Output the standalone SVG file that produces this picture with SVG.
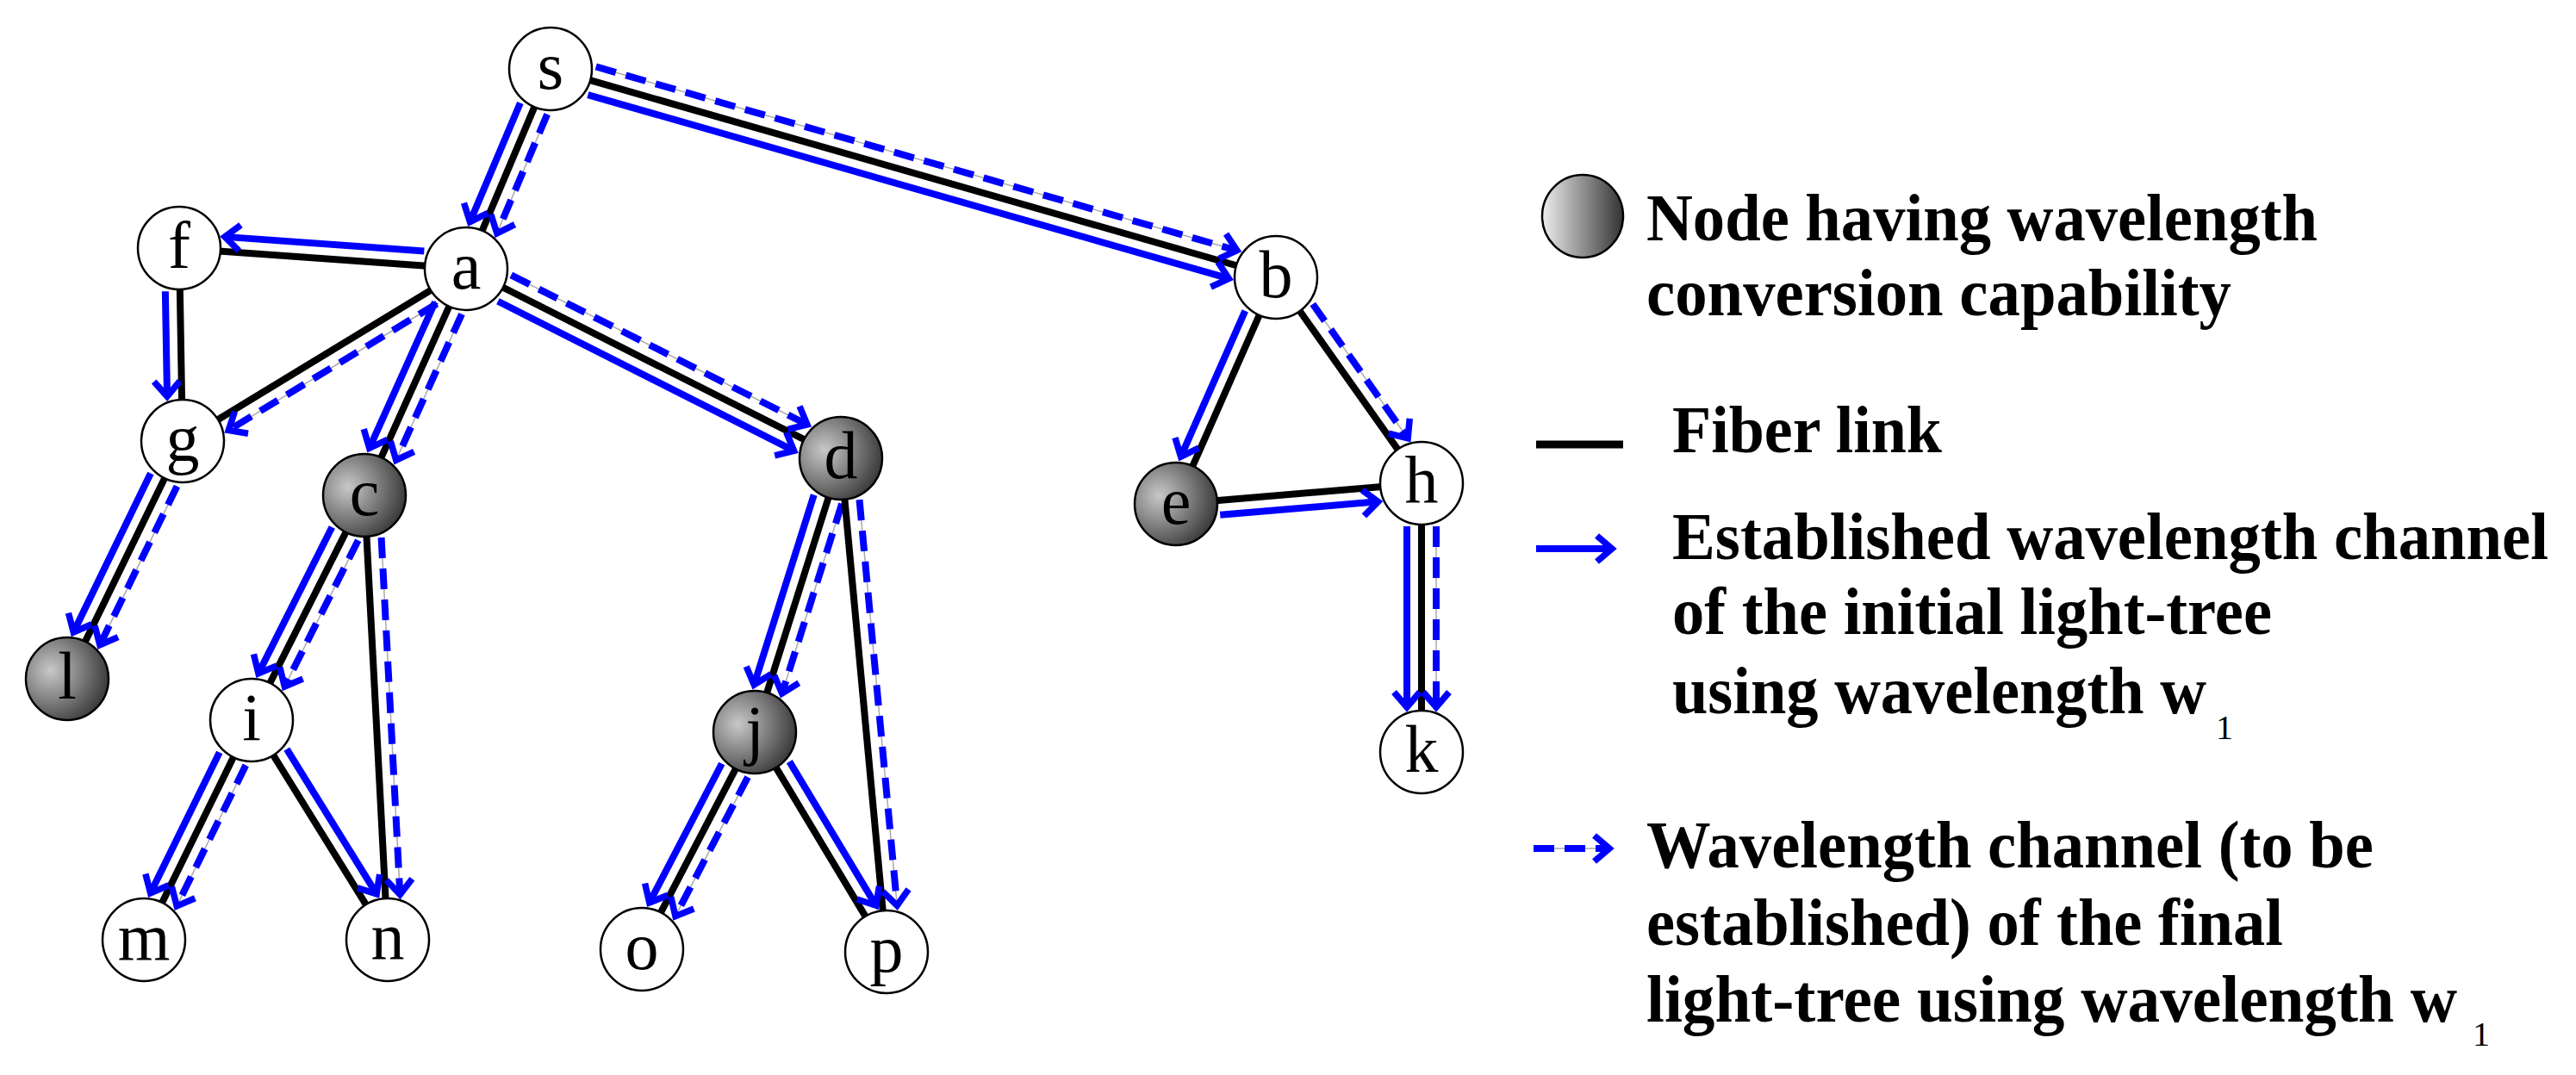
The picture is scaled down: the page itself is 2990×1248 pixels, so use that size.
<svg xmlns="http://www.w3.org/2000/svg" width="2990" height="1248" viewBox="0 0 2990 1248">
<style>
.fib{stroke:#000;stroke-width:8;fill:none}
.sol{stroke:#0000ff;stroke-width:8;fill:none;marker-end:url(#ah)}
.gry{stroke:#aaa;stroke-width:1.5;fill:none}
.dsh{stroke:#0000ff;stroke-width:8;fill:none;stroke-dasharray:24 12;marker-end:url(#ah)}
.nd{fill:#fff;stroke:#000;stroke-width:2.5}
.gn{fill:url(#gg);stroke:#000;stroke-width:2.5}
.lb{font-family:"Liberation Serif",serif;font-size:78px;text-anchor:middle}
.lg{font-family:"Liberation Serif",serif;font-size:78px;font-weight:bold}
</style>
<defs>
<radialGradient id="gg" cx="0.3" cy="0.4" r="0.75"><stop offset="0" stop-color="#c8c8c8"/><stop offset="1" stop-color="#333"/></radialGradient>
<linearGradient id="lgg" x1="0" x2="1" y1="0" y2="0"><stop offset="0" stop-color="#eee"/><stop offset="1" stop-color="#333"/></linearGradient>
<marker id="ah" markerUnits="userSpaceOnUse" markerWidth="40" markerHeight="40" viewBox="-18 -16 24 32" refX="0" refY="0" orient="auto"><path d="M-14,-12 L0,0 L-14,12" fill="none" stroke="#0000ff" stroke-width="6"/></marker>
</defs>
<g id="connectors">
<g transform="translate(639,80) rotate(112.9)"><line class="fib" x1="46" y1="0" x2="206" y2="0"/><line class="sol" x1="50" y1="17" x2="200" y2="17"/><line class="gry" x1="50" y1="-17" x2="200" y2="-17"/><line class="dsh" x1="50" y1="-17" x2="200" y2="-17"/></g>
<g transform="translate(639,80) rotate(16.0)"><line class="fib" x1="46" y1="0" x2="830" y2="0"/><line class="sol" x1="50" y1="17" x2="824" y2="17"/><line class="gry" x1="50" y1="-17" x2="824" y2="-17"/><line class="dsh" x1="50" y1="-17" x2="824" y2="-17"/></g>
<g transform="translate(541,312) rotate(184.1)"><line class="fib" x1="46" y1="0" x2="288" y2="0"/><line class="sol" x1="50" y1="17" x2="282" y2="17"/></g>
<g transform="translate(208,288) rotate(89.0)"><line class="fib" x1="46" y1="0" x2="178" y2="0"/><line class="sol" x1="50" y1="17" x2="172" y2="17"/></g>
<g transform="translate(541,312) rotate(148.7)"><line class="fib" x1="46" y1="0" x2="339" y2="0"/><line class="gry" x1="50" y1="-17" x2="333" y2="-17"/><line class="dsh" x1="50" y1="-17" x2="333" y2="-17"/></g>
<g transform="translate(541,312) rotate(114.2)"><line class="fib" x1="46" y1="0" x2="242" y2="0"/><line class="sol" x1="50" y1="17" x2="236" y2="17"/><line class="gry" x1="50" y1="-17" x2="236" y2="-17"/><line class="dsh" x1="50" y1="-17" x2="236" y2="-17"/></g>
<g transform="translate(541,312) rotate(26.8)"><line class="fib" x1="46" y1="0" x2="441" y2="0"/><line class="sol" x1="50" y1="17" x2="435" y2="17"/><line class="gry" x1="50" y1="-17" x2="435" y2="-17"/><line class="dsh" x1="50" y1="-17" x2="435" y2="-17"/></g>
<g transform="translate(212,512) rotate(115.9)"><line class="fib" x1="46" y1="0" x2="261" y2="0"/><line class="sol" x1="50" y1="17" x2="255" y2="17"/><line class="gry" x1="50" y1="-17" x2="255" y2="-17"/><line class="dsh" x1="50" y1="-17" x2="255" y2="-17"/></g>
<g transform="translate(423,575) rotate(116.7)"><line class="fib" x1="46" y1="0" x2="246" y2="0"/><line class="sol" x1="50" y1="17" x2="240" y2="17"/><line class="gry" x1="50" y1="-17" x2="240" y2="-17"/><line class="dsh" x1="50" y1="-17" x2="240" y2="-17"/></g>
<g transform="translate(423,575) rotate(87.0)"><line class="fib" x1="46" y1="0" x2="471" y2="0"/><line class="gry" x1="50" y1="-17" x2="465" y2="-17"/><line class="dsh" x1="50" y1="-17" x2="465" y2="-17"/></g>
<g transform="translate(292,836) rotate(116.1)"><line class="fib" x1="46" y1="0" x2="238" y2="0"/><line class="sol" x1="50" y1="17" x2="232" y2="17"/><line class="gry" x1="50" y1="-17" x2="232" y2="-17"/><line class="dsh" x1="50" y1="-17" x2="232" y2="-17"/></g>
<g transform="translate(292,836) rotate(58.2)"><line class="fib" x1="46" y1="0" x2="254" y2="0"/><line class="sol" x1="50" y1="-17" x2="248" y2="-17"/></g>
<g transform="translate(976,532) rotate(107.5)"><line class="fib" x1="46" y1="0" x2="287" y2="0"/><line class="sol" x1="50" y1="17" x2="281" y2="17"/><line class="gry" x1="50" y1="-17" x2="281" y2="-17"/><line class="dsh" x1="50" y1="-17" x2="281" y2="-17"/></g>
<g transform="translate(976,532) rotate(84.7)"><line class="fib" x1="46" y1="0" x2="529" y2="0"/><line class="gry" x1="50" y1="-17" x2="523" y2="-17"/><line class="dsh" x1="50" y1="-17" x2="523" y2="-17"/></g>
<g transform="translate(876,850) rotate(117.5)"><line class="fib" x1="46" y1="0" x2="238" y2="0"/><line class="sol" x1="50" y1="17" x2="232" y2="17"/><line class="gry" x1="50" y1="-17" x2="232" y2="-17"/><line class="dsh" x1="50" y1="-17" x2="232" y2="-17"/></g>
<g transform="translate(876,850) rotate(59.0)"><line class="fib" x1="46" y1="0" x2="251" y2="0"/><line class="sol" x1="50" y1="-17" x2="245" y2="-17"/></g>
<g transform="translate(1481,322) rotate(113.8)"><line class="fib" x1="46" y1="0" x2="241" y2="0"/><line class="sol" x1="50" y1="17" x2="235" y2="17"/></g>
<g transform="translate(1481,322) rotate(54.7)"><line class="fib" x1="46" y1="0" x2="247" y2="0"/><line class="gry" x1="50" y1="-17" x2="241" y2="-17"/><line class="dsh" x1="50" y1="-17" x2="241" y2="-17"/></g>
<g transform="translate(1365,585) rotate(-4.8)"><line class="fib" x1="46" y1="0" x2="240" y2="0"/><line class="sol" x1="50" y1="17" x2="234" y2="17"/></g>
<g transform="translate(1650,561) rotate(90)"><line class="fib" x1="46" y1="0" x2="266" y2="0"/><line class="sol" x1="50" y1="17" x2="260" y2="17"/><line class="gry" x1="50" y1="-17" x2="260" y2="-17"/><line class="dsh" x1="50" y1="-17" x2="260" y2="-17"/></g>
</g>
<g id="node-s"><circle class="nd" cx="639" cy="80" r="48"/><text class="lb" x="639" y="103">s</text></g>
<g id="node-f"><circle class="nd" cx="208" cy="288" r="48"/><text class="lb" x="208" y="311">f</text></g>
<g id="node-a"><circle class="nd" cx="541" cy="312" r="48"/><text class="lb" x="541" y="335">a</text></g>
<g id="node-g"><circle class="nd" cx="212" cy="512" r="48"/><text class="lb" x="212" y="535">g</text></g>
<g id="node-c"><circle class="gn" cx="423" cy="575" r="48"/><text class="lb" x="423" y="598">c</text></g>
<g id="node-d"><circle class="gn" cx="976" cy="532" r="48"/><text class="lb" x="976" y="555">d</text></g>
<g id="node-l"><circle class="gn" cx="78" cy="788" r="48"/><text class="lb" x="78" y="811">l</text></g>
<g id="node-i"><circle class="nd" cx="292" cy="836" r="48"/><text class="lb" x="292" y="859">i</text></g>
<g id="node-j"><circle class="gn" cx="876" cy="850" r="48"/><text class="lb" x="876" y="873">j</text></g>
<g id="node-m"><circle class="nd" cx="167" cy="1091" r="48"/><text class="lb" x="167" y="1114">m</text></g>
<g id="node-n"><circle class="nd" cx="450" cy="1091" r="48"/><text class="lb" x="450" y="1114">n</text></g>
<g id="node-o"><circle class="nd" cx="745" cy="1102" r="48"/><text class="lb" x="745" y="1125">o</text></g>
<g id="node-p"><circle class="nd" cx="1029" cy="1105" r="48"/><text class="lb" x="1029" y="1128">p</text></g>
<g id="node-b"><circle class="nd" cx="1481" cy="322" r="48"/><text class="lb" x="1481" y="345">b</text></g>
<g id="node-e"><circle class="gn" cx="1365" cy="585" r="48"/><text class="lb" x="1365" y="608">e</text></g>
<g id="node-h"><circle class="nd" cx="1650" cy="561" r="48"/><text class="lb" x="1650" y="584">h</text></g>
<g id="node-k"><circle class="nd" cx="1650" cy="873" r="48"/><text class="lb" x="1650" y="896">k</text></g>
<g id="legend">
<ellipse cx="1837" cy="251" rx="47" ry="48" fill="url(#lgg)" stroke="#000" stroke-width="2.5"/>
<text class="lg" x="1911" y="279" textLength="779" lengthAdjust="spacingAndGlyphs">Node having wavelength</text>
<text class="lg" x="1911" y="366" textLength="679" lengthAdjust="spacingAndGlyphs">conversion capability</text>
<line x1="1783" y1="516" x2="1884" y2="516" stroke="#000" stroke-width="9"/>
<text class="lg" x="1941" y="525" textLength="313" lengthAdjust="spacingAndGlyphs">Fiber link</text>
<line class="sol" x1="1783" y1="637" x2="1871" y2="637"/>
<text class="lg" x="1941" y="649" textLength="1017" lengthAdjust="spacingAndGlyphs">Established wavelength channel</text>
<text class="lg" x="1941" y="736" textLength="696" lengthAdjust="spacingAndGlyphs">of the initial light-tree</text>
<text class="lg" x="1941" y="828" textLength="620" lengthAdjust="spacingAndGlyphs">using wavelength w</text>
<text x="2572" y="858" font-family="Liberation Serif,serif" font-size="40">1</text>
<line class="gry" x1="1780" y1="985" x2="1868" y2="985"/>
<line class="dsh" x1="1780" y1="985" x2="1868" y2="985"/>
<text class="lg" x="1911" y="1007" textLength="844" lengthAdjust="spacingAndGlyphs">Wavelength channel (to be</text>
<text class="lg" x="1911" y="1097" textLength="739" lengthAdjust="spacingAndGlyphs">established) of the final</text>
<text class="lg" x="1911" y="1186" textLength="941" lengthAdjust="spacingAndGlyphs">light-tree  using wavelength w</text>
<text x="2870" y="1214" font-family="Liberation Serif,serif" font-size="40">1</text>
</g>
</svg>
